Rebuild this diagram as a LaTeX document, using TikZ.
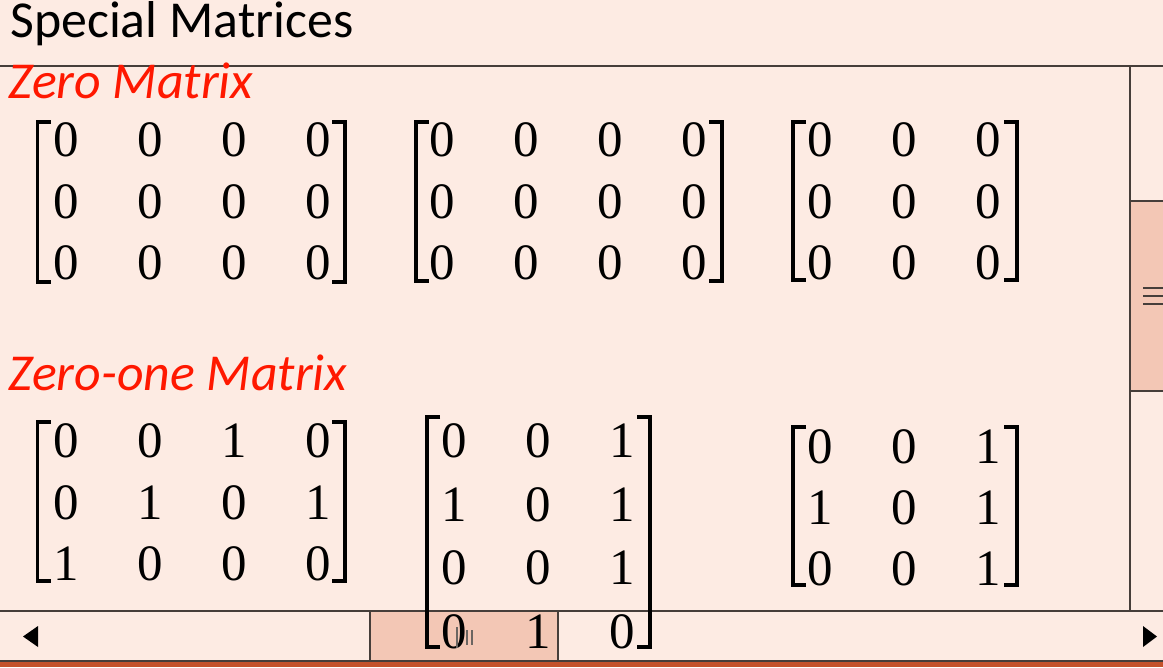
\documentclass[tikz,border=0pt]{standalone}
\usepackage{fontspec}
\newfontfamily\uifont{Carlito}
\newfontfamily\numfont{Liberation Serif}
\usepackage{tikz}
\tikzset{>=latex}
\definecolor{paper}{RGB}{253,235,227}
\definecolor{thumb}{RGB}{243,199,181}
\definecolor{taskbar}{RGB}{196,82,44}
\definecolor{frame}{RGB}{70,62,58}
\definecolor{heading}{RGB}{255,24,0}
\tikzset{
    entry/.style={inner sep=0pt, font=\numfont\fontsize{29}{29}\selectfont},
    bracket/.style={line width=2.2pt},
    title/.style={inner sep=0pt, anchor=base west, font=\uifont\fontsize{29.5}{29.5}\selectfont},
    heading/.style={inner sep=0pt, anchor=base west, text=heading, font=\uifont\itshape\fontsize{29.5}{29.5}\selectfont}
}
% name, x of first column, y of first row, row gap, rows
\newcommand{\drawmatrix}[5]{%
    \foreach \row [count=\r] in {#5}
        \foreach \v [count=\c] in \row
            \node[entry](#1\r\c) at({#2+84*(\c-1)}, {#3+#4*(\r-1)}){\v};
}
% left x, right x, top y, bottom y
\newcommand{\brackets}[4]{%
    \draw[bracket](#1+13, #3)--(#1, #3)--(#1, #4)--(#1+13, #4);
    \draw[bracket](#2-13, #3)--(#2, #3)--(#2, #4)--(#2-13, #4);
}

\begin{document}
\begin{tikzpicture}[x=0.02cm, y=-0.02cm]
    \useasboundingbox(0, 0)rectangle(1163, 667);
    \fill[paper](0, 0)rectangle(1163, 667);
    % scroll bars
    \fill[thumb](1130, 201)rectangle(1163, 391);
    \fill[thumb](370, 611)rectangle(558, 661);
    \fill[taskbar](0, 662)rectangle(1163, 667);
    \draw[frame, line width=1.1pt](0, 66)--(1163, 66);
    \draw[frame, line width=1pt](1130, 66)--(1130, 611);
    \draw[frame, line width=1pt](1130, 201)--(1163, 201);
    \draw[frame, line width=1pt](1130, 391)--(1163, 391);
    \draw[frame, line width=1.1pt](0, 611)--(1163, 611);
    \draw[frame, line width=1.1pt](0, 661)--(1163, 661);
    \draw[frame, line width=1pt](370, 611)--(370, 661);
    \draw[frame, line width=1pt](558, 611)--(558, 661);
    \foreach \y in {288, 296, 304}
        \draw[frame, line width=1pt](1143, \y)--(1163, \y);
    \fill[black](38, 626)--(23, 636.5)--(38, 647)--cycle;
    \fill[black](1143, 626)--(1157, 636.5)--(1143, 647)--cycle;
    % texts
    \node[title](title) at(10, 37){Special Matrices};
    \node[heading](zero) at(8, 98){Zero Matrix};
    \node[heading](zeroone) at(8, 390){Zero-one Matrix};
    % zero matrices
    \drawmatrix{za}{66}{140}{61.5}{{0,0,0,0},{0,0,0,0},{0,0,0,0}}
    \brackets{37.5}{345}{122}{282}
    \drawmatrix{zb}{442}{140}{61.5}{{0,0,0,0},{0,0,0,0},{0,0,0,0}}
    \brackets{416}{722}{122}{281}
    \drawmatrix{zc}{820}{140}{61.5}{{0,0,0},{0,0,0},{0,0,0}}
    \brackets{793}{1017}{122}{280}
    % zero-one matrices
    \drawmatrix{oa}{66}{441}{61.5}{{0,0,1,0},{0,1,0,1},{1,0,0,0}}
    \brackets{37.5}{345}{422}{581}
    \drawmatrix{ob}{454}{441}{63.5}{{0,0,1},{1,0,1},{0,0,1},{0,1,0}}
    \brackets{427}{650}{417}{647}
    \drawmatrix{oc}{820}{447}{61}{{0,0,1},{1,0,1},{0,0,1}}
    \brackets{793}{1017}{427}{585}
    % grip of the lower thumb
    \draw[frame!80, line width=.8pt](457, 627)--(457, 648);
    \draw[frame!80, line width=.8pt](467, 630)--(467, 645);
    \draw[frame!80, line width=.8pt](472, 630)--(472, 645);
\end{tikzpicture}
\end{document}
